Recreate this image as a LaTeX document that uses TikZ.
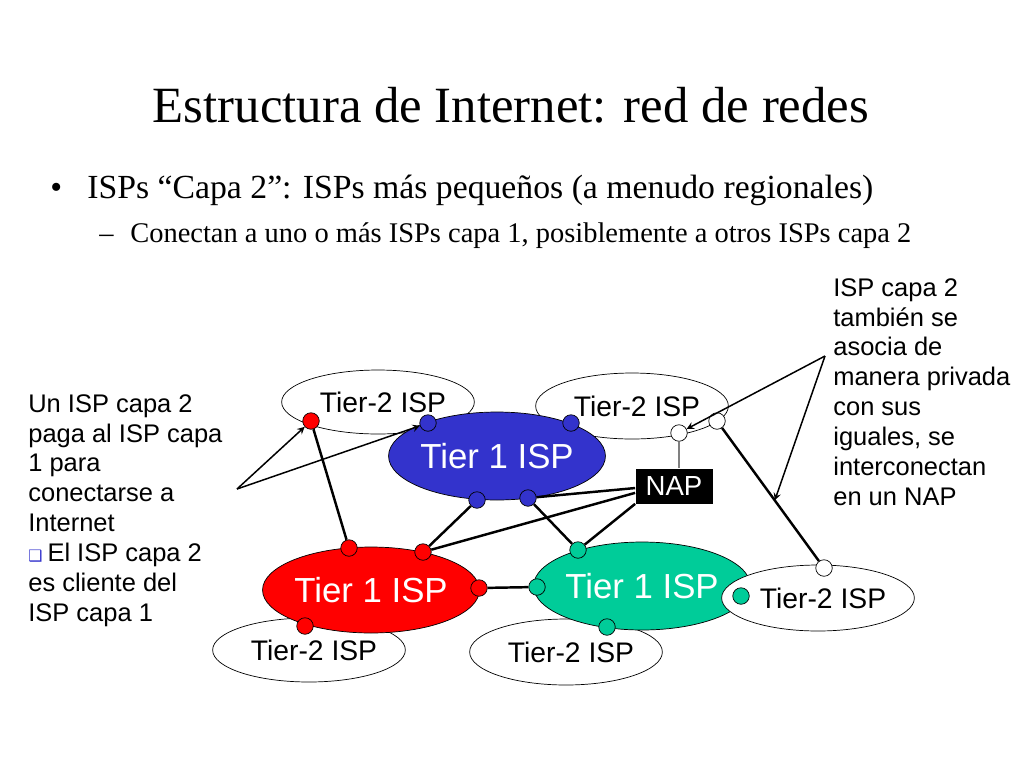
\documentclass[tikz,border=0pt]{standalone}
\usepackage{fontspec}
\setmainfont{Liberation Serif}
\newfontfamily\diagfont{Liberation Sans}
\newfontfamily\symfont{DejaVu Sans}
\usetikzlibrary{shapes.geometric,calc}

\definecolor{tierBlue}{RGB}{51,51,204}
\definecolor{tierRed}{RGB}{255,0,0}
\definecolor{tierGreen}{RGB}{0,204,153}

\tikzstyle{tierTwo}=[ellipse,draw,fill=white,inner sep=0pt,font=\diagfont\fontsize{16.1}{18}\selectfont]
\tikzstyle{tierOne}=[ellipse,draw,text=white,inner sep=0pt,font=\diagfont\fontsize{19.8}{22}\selectfont]
\tikzstyle{port}=[circle,draw,inner sep=0pt,minimum size=0.33cm]
\tikzstyle{link}=[draw,line width=1.4pt]
\tikzstyle{note}=[draw,line width=0.85pt,->]
\tikzstyle{sideText}=[anchor=north west,align=left,inner sep=0pt,font=\diagfont\fontsize{14.5}{17}\selectfont]

\begin{document}
\begin{tikzpicture}[x=0.02cm,y=-0.02cm,>=stealth]
  \useasboundingbox (0,0) rectangle (1024,768);

  % slide text
  \node[anchor=base,inner sep=0pt,font=\fontsize{28.9}{32}\selectfont] (title) at (511,122) {Estructura de Internet: red de redes};
  \node[anchor=base west,inner sep=0pt,font=\fontsize{19.2}{22}\selectfont] (dotA) at (50,198) {•};
  \node[anchor=base west,inner sep=0pt,font=\fontsize{19.2}{22}\selectfont] (lvlA) at (87,198) {ISPs “Capa 2”: ISPs más pequeños (a menudo regionales)};
  \node[anchor=base west,inner sep=0pt,font=\fontsize{16.2}{20}\selectfont] (dashB) at (99,242) {–};
  \node[anchor=base west,inner sep=0pt,font=\fontsize{16.2}{20}\selectfont] (lvlB) at (130,242) {Conectan a uno o más ISPs capa 1, posiblemente a otros ISPs capa 2};

  % networks
  \node[tierTwo,minimum width=3.8cm,minimum height=1.28cm] (tl) at (378,402) {\hspace{0.2cm}Tier-2 ISP};
  \node[tierTwo,minimum width=3.76cm,minimum height=1.32cm] (tr) at (632,406) {\hspace{0.2cm}Tier-2 ISP};
  \node[tierTwo,minimum width=3.72cm,minimum height=1.28cm] (bl) at (309,650) {\hspace{0.2cm}Tier-2 ISP};
  \node[tierTwo,minimum width=3.72cm,minimum height=1.32cm] (bm) at (566,652) {\hspace{0.2cm}Tier-2 ISP};
  \node[tierOne,fill=tierBlue,minimum width=4.2cm,minimum height=1.76cm] (blue) at (497,456) {Tier 1 ISP};
  \node[tierOne,fill=tierRed,minimum width=4.12cm,minimum height=1.72cm] (red) at (371,590) {Tier 1 ISP};
  \node[tierOne,fill=tierGreen,minimum width=4.2cm,minimum height=1.76cm] (green) at (642,586) {Tier 1 ISP};
  \node[tierTwo,minimum width=3.72cm,minimum height=1.32cm] (rt) at (818,598) {\hspace{0.2cm}Tier-2 ISP};
  \node[fill=black,text=white,inner sep=0pt,minimum width=1.54cm,minimum height=0.7cm,font=\diagfont\fontsize{15.7}{18}\selectfont] (nap) at (674,486) {NAP};

  % routers
  \node[port,fill=tierRed] (r1) at (311,421) {};
  \node[port,fill=tierRed] (r2) at (349,548) {};
  \node[port,fill=tierRed] (r3) at (423,552) {};
  \node[port,fill=tierRed] (r4) at (479,588) {};
  \node[port,fill=tierRed] (r5) at (305,626) {};
  \node[port,fill=tierBlue] (b1) at (428,423) {};
  \node[port,fill=tierBlue] (b2) at (571,423) {};
  \node[port,fill=tierBlue] (b3) at (477,500) {};
  \node[port,fill=tierBlue] (b4) at (528,498) {};
  \node[port,fill=tierGreen] (g1) at (578,550) {};
  \node[port,fill=tierGreen] (g2) at (537,587) {};
  \node[port,fill=tierGreen] (g3) at (607,627) {};
  \node[port,fill=tierGreen] (g4) at (741,596) {};
  \node[port,fill=white] (w1) at (679,433) {};
  \node[port,fill=white] (w2) at (717,421) {};
  \node[port,fill=white] (w3) at (824,568) {};

  % links
  \path[link](r1)--(r2);
  \path[link](b3)--(r3);
  \path[link](r3)--(nap.190);
  \path[link](b4)--(nap.183);
  \path[link](b4)--(g1);
  \path[link](g1)--(nap.south west);
  \path[link](r4)--(g2);
  \path[link](w2)--(w3);
  \path[draw,gray,line width=0.7pt](w1)--(w1|-nap.north);

  % notes
  \node[sideText] (payNote) at (28,394) {Un ISP capa 2\\paga al ISP capa\\1 para\\conectarse a\\Internet\\{\symfont\color{tierBlue}\fontsize{9}{9}\selectfont ❑}\hspace{0.1cm}El ISP capa 2\\es cliente del\\ISP capa 1};
  \node[sideText] (peerNote) at (833,278) {ISP capa 2\\también se\\asocia de\\manera privada\\con sus\\iguales, se\\interconectan\\en un NAP};

  \coordinate (payTip) at (237,489);
  \coordinate (peerTip) at (825,356);
  \coordinate (peerLink) at ($(w2)!0.54!(w3)$);
  \path[note](payTip)--(r1);
  \path[note](payTip)--(b1);
  \path[note](peerTip)--(w1);
  \path[note](peerTip)--(peerLink);

\end{tikzpicture}
\end{document}
